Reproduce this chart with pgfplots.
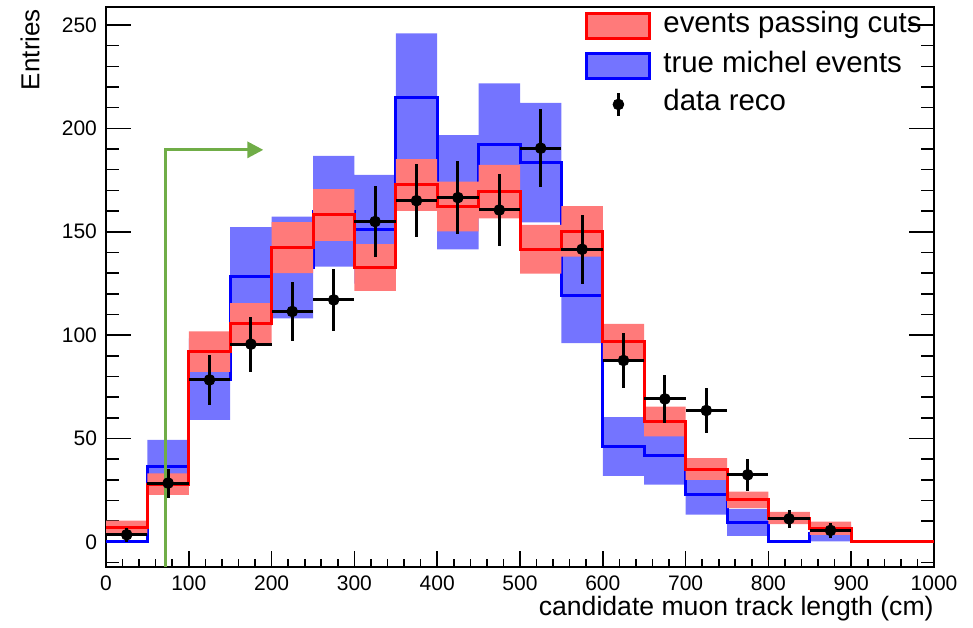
\documentclass[border=0pt]{standalone}
\usepackage{fontspec}
\setmainfont{Liberation Sans}
\usepackage{pgfplots}
\usepackage{pgfplotstable}
\pgfplotsset{compat=1.18}
\usepgfplotslibrary{fillbetween}
\usetikzlibrary{arrows.meta}
\definecolor{arrowgreen}{RGB}{112,173,71}
\definecolor{bandred}{RGB}{255,122,122}
\definecolor{bandblue}{RGB}{116,116,255}

\pgfplotstableread{
x v e
0 7.1 3.1
50 27.9 5.2
100 92 9.8
150 105.7 9.7
200 142.3 12.3
250 158.1 12.5
300 132.7 11.3
350 172.6 12.5
400 162.2 12
450 169.4 12.9
500 141.5 11.8
550 150.2 12.2
600 96.9 8.5
650 58.2 7.2
700 35.2 5.3
750 20.3 4
800 11.5 3
850 6.6 3.2
900 0 0
950 0 0
1000 0 0
}\redtab

\pgfplotstableread{
x v e
0 0 0
50 36.4 12.9
100 78.7 19.7
150 128.3 23.9
200 132.7 24.6
250 159.9 26.8
300 151.2 26.3
350 214.8 31.2
400 169.1 27.6
450 192 29.8
500 183.4 28.9
550 119 22.9
600 46.1 14.2
650 41.6 14
700 22.7 9.6
750 9.4 6.5
800 0 0
850 4.2 4
900 0 0
950 0 0
1000 0 0
}\bluetab

\pgfplotstableread{
x y ey
25 3.4 3.5
75 28.4 7
125 78.3 12
175 95.6 13.3
225 111.4 14.5
275 117 14.9
325 154.9 17.3
375 165 17.7
425 166.5 17.6
475 160.5 17.4
525 190.4 19
575 141.5 16.8
625 87.7 13.2
675 69.1 11.7
725 63.5 11
775 32.4 7.7
825 11.1 4.3
875 5.5 3.6
}\datatab

\begin{document}
\begin{tikzpicture}
\begin{axis}[
  set layers=standard,
  scale only axis,
  width=414pt, height=280pt,
  at={(0,0)}, anchor=south west,
  xmin=0, xmax=1000, ymin=-12.2, ymax=258.7,
  xtick={0,100,...,1000},
  minor xtick={0,20,...,1000},
  ytick={0,50,...,250},
  minor ytick={-10,0,...,250},
  tick align=inside,
  xtick pos=left,
  ytick pos=both,
  scaled ticks=false,
  /pgf/number format/1000 sep={},
  /pgf/number format/assume math mode=true,
  axis line style={line width=0.8pt},
  x tick style={line width=0.8pt, black, /pgfplots/major tick length=7.8pt, /pgfplots/minor tick length=4pt},
  y tick style={line width=0.8pt, black, /pgfplots/major tick length=12.5pt, /pgfplots/minor tick length=6.5pt},
  ticklabel style={font=\fontsize{10.5pt}{12pt}\selectfont},
  xticklabel style={yshift=-1pt},
  yticklabel style={xshift=-1pt},
  xlabel={candidate muon track length (cm)},
  ylabel={Entries},
  xlabel style={at={(axis description cs:1,0)}, anchor=north east, yshift=-14.5pt, inner sep=0pt, font=\fontsize{13.3pt}{15pt}\selectfont},
  ylabel style={at={(axis description cs:-0.0918,0.997)}, anchor=east, inner sep=0pt, font=\fontsize{13pt}{15pt}\selectfont},
  legend style={at={(axis description cs:0.5785,0.991)}, anchor=north west, draw=none, fill=none, inner sep=0pt,
    font=\fontsize{14.7pt}{16pt}\selectfont, row sep=5.75pt, column sep=6pt,
    nodes={inner sep=0pt, text height=9.5pt, text depth=3pt}},
  legend cell align=left,
]
% blue band
\addplot[name path=bU, draw=none, const plot, forget plot] table[x=x, y expr=\thisrow{v}+\thisrow{e}]{\bluetab};
\addplot[name path=bL, draw=none, const plot, forget plot] table[x=x, y expr=\thisrow{v}-\thisrow{e}]{\bluetab};
\addplot[fill=bandblue, draw=none, forget plot] fill between[of=bU and bL];
\addplot[blue, line width=1.5pt, const plot, forget plot, on layer=pre main] table[x=x, y=v]{\bluetab};
% red band
\addplot[name path=rU, draw=none, const plot, forget plot] table[x=x, y expr=\thisrow{v}+\thisrow{e}]{\redtab};
\addplot[name path=rL, draw=none, const plot, forget plot] table[x=x, y expr=\thisrow{v}-\thisrow{e}]{\redtab};
\addplot[fill=bandred, draw=none, forget plot] fill between[of=rU and rL];
\addplot[red, line width=1.5pt, const plot, forget plot] table[x=x, y=v]{\redtab};
% data
\addplot[black, only marks, mark=*, mark size=2.7pt, forget plot,
  error bars/.cd, x dir=both, x fixed=25, y dir=both, y explicit,
  error mark=none, error bar style={line width=1.5pt, black}]
  table[x=x, y=y, y error=ey]{\datatab};
% green cut arrow
\addplot[arrowgreen, line width=1.6pt, -{Triangle[length=8pt, width=8pt]}, forget plot] coordinates {(72,-12.2) (72,189.6) (190,189.6)};
% legend
\addlegendimage{legend image code/.code={\draw[fill=bandred, draw=red, line width=1.5pt] (0pt,-6.25pt) rectangle (31.5pt,6.25pt);}}
\addlegendentry{events passing cuts}
\addlegendimage{legend image code/.code={\draw[fill=bandblue, draw=blue, line width=1.5pt] (0pt,-6.25pt) rectangle (31.5pt,6.25pt);}}
\addlegendentry{true michel events}
\addlegendimage{legend image code/.code={\draw[black, line width=1.5pt] (15.75pt,-5.75pt) -- (15.75pt,5.75pt); \fill[black] (15.75pt,0pt) circle (2.7pt);}}
\addlegendentry{data reco}
\end{axis}
\pgfresetboundingbox
\path[use as bounding box] (-53pt,-30pt) rectangle (433.5pt,283.5pt);
\end{tikzpicture}
\end{document}
